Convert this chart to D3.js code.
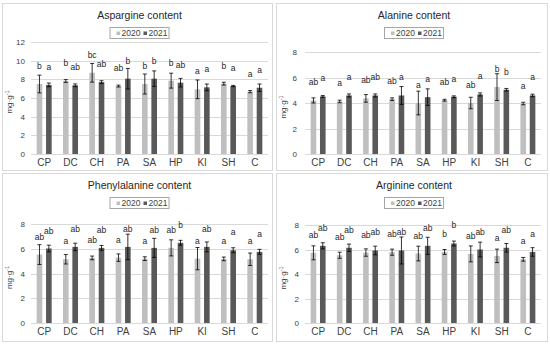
<!DOCTYPE html>
<html>
<head>
<meta charset="utf-8">
<script src="https://cdn.jsdelivr.net/npm/d3@7"></script>
<style>
  body { margin: 0; background: #fff; }
  svg { display: block; font-family: "Liberation Sans", Arial, sans-serif; }
</style>
</head>
<body>
<div id="chart"></div>
<script>
/* amino acid content, 2020 vs 2021 */

const categories = ["CP", "DC", "CH", "PA", "SA", "HP", "KI", "SH", "C"];
const years = ["2020", "2021"];

const aspValues2020 = [7.5, 7.82, 8.7, 7.28, 7.5, 7.86, 6.93, 7.54, 6.68];
const aspErr2020 = [0.95, 0.15, 1.0, 0.1, 1.07, 0.8, 1.0, 0.15, 0.12];
const aspValues2021 = [7.4, 7.36, 7.7, 8.07, 8.07, 7.64, 7.14, 7.28, 7.1];
const aspErr2021 = [0.2, 0.15, 0.15, 1.1, 0.83, 0.46, 0.36, 0.07, 0.4];
const aspLetters2020 = ["b", "b", "bc", "ab", "b", "b", "a", "b", "a"];
const aspLetters2021 = ["a", "ab", "ab", "b", "b", "ab", "a", "a", "a"];

const alaValues2020 = [4.2, 4.12, 4.36, 4.3, 4.0, 4.22, 4.0, 5.25, 3.96];
const alaErr2020 = [0.2, 0.1, 0.3, 0.1, 0.93, 0.07, 0.45, 1.05, 0.1];
const alaValues2021 = [4.51, 4.59, 4.59, 4.59, 4.46, 4.49, 4.67, 5.04, 4.59];
const alaErr2021 = [0.07, 0.12, 0.12, 0.7, 0.65, 0.07, 0.12, 0.1, 0.1];
const alaLetters2020 = ["ab", "a", "ab", "ab", "a", "ab", "ab", "b", "a"];
const alaLetters2021 = ["a", "a", "ab", "a", "a", "a", "a", "b", "a"];

const pheValues2020 = [5.53, 5.15, 5.26, 5.28, 5.2, 6.07, 5.2, 5.18, 5.15];
const pheErr2020 = [0.8, 0.38, 0.15, 0.3, 0.15, 0.65, 0.9, 0.15, 0.5];
const pheValues2021 = [6.02, 6.15, 6.07, 6.15, 6.07, 6.48, 6.15, 5.88, 5.75];
const pheErr2021 = [0.27, 0.3, 0.2, 1.03, 0.77, 0.2, 0.4, 0.2, 0.2];
const pheLetters2020 = ["ab", "a", "ab", "a", "a", "ab", "a", "a", "a"];
const pheLetters2021 = ["ab", "ab", "ab", "ab", "ab", "b", "ab", "a", "a"];

const argValues2020 = [5.73, 5.53, 5.75, 5.78, 5.67, 5.8, 5.64, 5.48, 5.2];
const argErr2020 = [0.57, 0.25, 0.3, 0.25, 0.6, 0.2, 0.65, 0.55, 0.15];
const argValues2021 = [6.3, 6.14, 5.92, 5.92, 6.3, 6.49, 6.0, 6.14, 5.8];
const argErr2021 = [0.25, 0.3, 0.35, 1.1, 0.7, 0.2, 0.6, 0.35, 0.35];
const argLetters2020 = ["ab", "ab", "ab", "ab", "ab", "b", "ab", "a", "a"];
const argLetters2021 = ["ab", "ab", "ab", "ab", "ab", "b", "ab", "ab", "a"];

const aspTicks = [0, 2, 4, 6, 8, 10, 12];
const otherTicks = [0, 2, 4, 6, 8];

const colors = {"2020": "#bfbfbf", "2021": "#595959"};

const panels = [
	{title: "Aspargine content", v: [aspValues2020, aspValues2021], e: [aspErr2020, aspErr2021],
	 l: [aspLetters2020, aspLetters2021], ticks: aspTicks,
	 frame: [2, 3, 271, 168], plot: [31, 268, 42, 154], tickGap: 6},
	{title: "Alanine content", v: [alaValues2020, alaValues2021], e: [alaErr2020, alaErr2021],
	 l: [alaLetters2020, alaLetters2021], ticks: otherTicks,
	 frame: [276, 3, 272, 168], plot: [305, 541, 52, 154], tickGap: 8},
	{title: "Phenylalanine  content", v: [pheValues2020, pheValues2021], e: [pheErr2020, pheErr2021],
	 l: [pheLetters2020, pheLetters2021], ticks: otherTicks,
	 frame: [2, 173, 271, 169], plot: [31, 268, 224, 323], tickGap: 6},
	{title: "Arginine content", v: [argValues2020, argValues2021], e: [argErr2020, argErr2021],
	 l: [argLetters2020, argLetters2021], ticks: otherTicks,
	 frame: [276, 173, 272, 169], plot: [305, 541, 225, 323], tickGap: 6}
];

const svg = d3.select("#chart").append("svg")
	.attr("width", 550)
	.attr("height", 344);

svg.append("rect").attr("width", 550).attr("height", 344).attr("fill", "#fff");

panels.forEach(drawPanel);

function drawPanel(p) {
	const [fx, fy, fw, fh] = p.frame;
	const [x0, x1, yTop, yBottom] = p.plot;
	const g = svg.append("g");

	g.append("rect")
		.attr("x", fx + 0.5).attr("y", fy + 0.5)
		.attr("width", fw - 1).attr("height", fh - 1)
		.attr("fill", "#fff")
		.attr("stroke", "#d9d9d9");

	const cx = fx + fw / 2 + 2;

	g.append("text")
		.attr("x", cx).attr("y", fy + 16)
		.attr("text-anchor", "middle")
		.attr("font-size", 10.5)
		.attr("fill", "#262626")
		.text(p.title);

	// legend
	const lg = g.append("g").attr("transform", `translate(${cx - 30},${fy + 24})`);
	lg.append("rect")
		.attr("x", 0.5).attr("y", 0.5)
		.attr("width", 59).attr("height", 11)
		.attr("fill", "#fff")
		.attr("stroke", "#a6a6a6");
	years.forEach((yr, i) => {
		lg.append("rect")
			.attr("x", 7 + i * 27).attr("y", 4.5)
			.attr("width", 3.5).attr("height", 3.5)
			.attr("fill", colors[yr]);
		lg.append("text")
			.attr("x", 12 + i * 27).attr("y", 9)
			.attr("font-size", 8.5)
			.attr("fill", "#404040")
			.text(yr);
	});

	const ymax = d3.max(p.ticks);
	const y = d3.scaleLinear().domain([0, ymax]).range([yBottom, yTop]);
	const x = d3.scaleBand().domain(categories).range([x0, x1]).paddingInner(0.43).paddingOuter(0.215);
	const xs = d3.scaleBand().domain(years).range([0, x.bandwidth()]).paddingInner(0.4);

	// gridlines
	g.append("g").selectAll("line")
		.data(p.ticks)
		.join("line")
		.attr("x1", x0).attr("x2", x1)
		.attr("y1", d => Math.round(y(d)) + 0.5)
		.attr("y2", d => Math.round(y(d)) + 0.5)
		.attr("stroke", "#d9d9d9");

	const yAxis = g.append("g")
		.attr("transform", `translate(${x0 - p.tickGap},0)`)
		.call(d3.axisLeft(y).tickValues(p.ticks).tickSize(0).tickPadding(0));
	yAxis.select(".domain").remove();
	yAxis.selectAll("text").attr("font-size", 8).attr("fill", "#404040").attr("font-family", null);

	const xAxis = g.append("g")
		.attr("transform", `translate(0,${yBottom})`)
		.call(d3.axisBottom(x).tickSize(0).tickPadding(5));
	xAxis.select(".domain").remove();
	xAxis.selectAll("text").attr("font-size", 10).attr("fill", "#404040").attr("font-family", null);

	// y title
	const yt = g.append("text")
		.attr("transform", `translate(${fx + 10},${(yTop + yBottom) / 2 + 4}) rotate(-90)`)
		.attr("text-anchor", "middle")
		.attr("font-size", 8)
		.attr("fill", "#404040");
	yt.append("tspan").text("mg·g");
	yt.append("tspan").attr("font-size", 5.5).attr("dy", -3).text("-1");

	years.forEach((yr, si) => {
		const rows = categories.map((c, i) => ({c, v: p.v[si][i], e: p.e[si][i], l: p.l[si][i]}));
		const sg = g.append("g");
		sg.selectAll("rect")
			.data(rows)
			.join("rect")
			.attr("x", d => x(d.c) + xs(yr))
			.attr("y", d => y(d.v))
			.attr("width", xs.bandwidth())
			.attr("height", d => yBottom - y(d.v))
			.attr("fill", colors[yr]);

		const eg = sg.append("g").attr("stroke", "#000").attr("stroke-width", 0.8);
		rows.forEach(d => {
			const mx = x(d.c) + xs(yr) + xs.bandwidth() / 2;
			eg.append("line").attr("x1", mx).attr("x2", mx)
				.attr("y1", y(d.v - d.e)).attr("y2", y(d.v + d.e));
			[d.v - d.e, d.v + d.e].forEach(val => {
				eg.append("line").attr("x1", mx - 2).attr("x2", mx + 2)
					.attr("y1", y(val)).attr("y2", y(val));
			});
		});

		sg.selectAll("text.letter")
			.data(rows)
			.join("text")
			.attr("class", "letter")
			.attr("x", d => x(d.c) + xs(yr) + xs.bandwidth() / 2)
			.attr("y", d => y(d.v) - 15)
			.attr("text-anchor", "middle")
			.attr("font-size", 8.5)
			.attr("fill", "#262626")
			.text(d => d.l);
	});
}
</script>
</body>
</html>
